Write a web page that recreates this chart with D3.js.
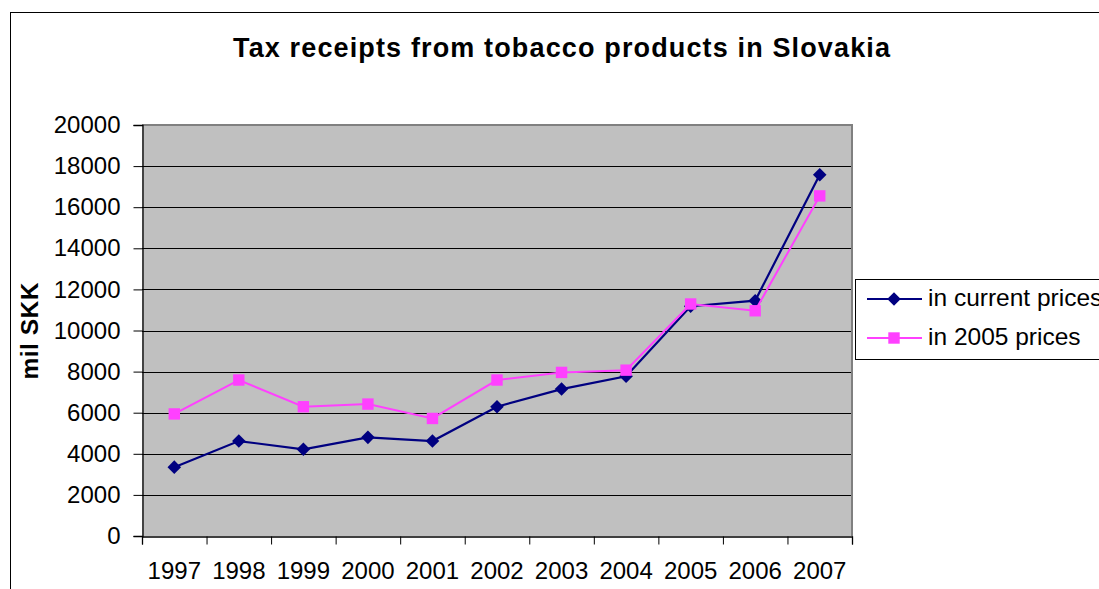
<!DOCTYPE html>
<html>
<head>
<meta charset="utf-8">
<script src="https://cdn.jsdelivr.net/npm/d3@7"></script>
<style>
  body { margin: 0; background: #fff; }
  text { font-family: "Liberation Sans", Arial, sans-serif; fill: #000; }
</style>
</head>
<body>
<svg id="chart" width="1099" height="589"></svg>
<script>
// Tax receipts from tobacco products (mil SKK)
const years = ["1997", "1998", "1999", "2000", "2001", "2002", "2003", "2004", "2005", "2006", "2007"];
const currentPrices = [3350, 4620, 4220, 4800, 4620, 6290, 7150, 7770, 11180, 11450, 17580];
const prices2005 = [5940, 7590, 6290, 6420, 5720, 7590, 7960, 8070, 11290, 10960, 16550];
const yTicks = d3.range(0, 20001, 2000);
const seriesNames = ["in current prices", "in 2005 prices"];
const seriesColors = ["#000080", "#ff40ff"];

const svg = d3.select("#chart");

// outer chart frame
svg.append("rect")
  .attr("x", 10.5).attr("y", 12.5)
  .attr("width", 1200).attr("height", 700)
  .attr("fill", "#fff").attr("stroke", "#000").attr("stroke-width", 1);

const plot = { left: 142, right: 852, top: 125, bottom: 536 };

const x = d3.scaleBand().domain(years).range([plot.left, plot.right]).padding(0);
const xEdge = d3.scaleLinear().domain([0, years.length]).range([plot.left, plot.right]);
const y = d3.scaleLinear().domain([0, 20000]).range([plot.bottom, plot.top]);

// plot background
svg.append("rect")
  .attr("x", plot.left).attr("y", plot.top)
  .attr("width", plot.right - plot.left).attr("height", plot.bottom - plot.top)
  .attr("fill", "#c0c0c0");

// horizontal gridlines
svg.append("g").selectAll("line")
  .data(yTicks.filter(v => v > 0 && v < 20000))
  .join("line")
  .attr("x1", plot.left).attr("x2", plot.right)
  .attr("y1", d => Math.round(y(d)) + 0.5).attr("y2", d => Math.round(y(d)) + 0.5)
  .attr("stroke", "#000").attr("stroke-width", 1);

// grey plot border on top and right
svg.append("path")
  .attr("d", `M${plot.left},${plot.top} H${plot.right} V${plot.bottom}`)
  .attr("fill", "none").attr("stroke", "#808080").attr("stroke-width", 2);

const tickFont = 24;

// y axis
const yAxis = svg.append("g")
  .attr("transform", `translate(${plot.left + 0.5},0)`)
  .call(d3.axisLeft(y).tickValues(yTicks).tickSize(9).tickPadding(13).tickFormat(d3.format("d")));
yAxis.select(".domain").attr("stroke", "#000").attr("stroke-width", 1.3);
yAxis.selectAll(".tick line").attr("stroke", "#000");
yAxis.selectAll("text").attr("font-size", tickFont).attr("font-family", "Liberation Sans, Arial, sans-serif").attr("fill", "#000");

// x axis: ticks between categories
const xTickAxis = svg.append("g")
  .attr("transform", `translate(0,${plot.bottom + 0.5})`)
  .call(d3.axisBottom(xEdge).tickValues(d3.range(0, years.length + 1)).tickSize(8).tickFormat(""));
xTickAxis.select(".domain").attr("stroke", "#000").attr("stroke-width", 1.3);
xTickAxis.selectAll(".tick line").attr("stroke", "#000");

// x labels at category centres
const xLabelAxis = svg.append("g")
  .attr("transform", `translate(0,${plot.bottom})`)
  .call(d3.axisBottom(x).tickSize(0).tickPadding(26));
xLabelAxis.select(".domain").remove();
xLabelAxis.selectAll("text").attr("font-size", tickFont).attr("font-family", "Liberation Sans, Arial, sans-serif").attr("fill", "#000");

// title
svg.append("text")
  .attr("x", 561.5).attr("y", 57)
  .attr("text-anchor", "middle")
  .attr("font-size", 27).attr("font-weight", "bold")
  .attr("textLength", 657).attr("lengthAdjust", "spacing")
  .text("Tax receipts from tobacco products in Slovakia");

// y axis title
svg.append("text")
  .attr("transform", "translate(38,331) rotate(-90)")
  .attr("text-anchor", "middle")
  .attr("font-size", 24.5).attr("font-weight", "bold")
  .attr("textLength", 97).attr("lengthAdjust", "spacing")
  .text("mil SKK");

// series lines and markers
const series = [currentPrices, prices2005];
const line = d3.line()
  .x((d, i) => x(years[i]) + x.bandwidth() / 2)
  .y(d => y(d));

const diamond = d3.symbol(d3.symbolSquare, 92);
const square = d3.symbol(d3.symbolSquare, 130);

series.forEach((vals, s) => {
  svg.append("path")
    .datum(vals)
    .attr("d", line)
    .attr("fill", "none")
    .attr("stroke", seriesColors[s])
    .attr("stroke-width", s === 0 ? 2.2 : 2);
  svg.append("g").selectAll("path")
    .data(vals)
    .join("path")
    .attr("transform", (d, i) => `translate(${x(years[i]) + x.bandwidth() / 2},${y(d)})` + (s === 0 ? " rotate(45)" : ""))
    .attr("d", s === 0 ? diamond : square)
    .attr("fill", seriesColors[s]);
});

// legend
const legend = svg.append("g");
legend.append("rect")
  .attr("x", 855.5).attr("y", 279.5)
  .attr("width", 300).attr("height", 80)
  .attr("fill", "#fff").attr("stroke", "#000").attr("stroke-width", 1);
const rowY = [299, 338];
seriesNames.forEach((name, s) => {
  legend.append("line")
    .attr("x1", 867).attr("x2", 922)
    .attr("y1", rowY[s]).attr("y2", rowY[s])
    .attr("stroke", seriesColors[s]).attr("stroke-width", 2);
  legend.append("path")
    .attr("transform", `translate(894,${rowY[s]})` + (s === 0 ? " rotate(45)" : ""))
    .attr("d", s === 0 ? diamond : square)
    .attr("fill", seriesColors[s]);
  legend.append("text")
    .attr("x", 928).attr("y", rowY[s] + 7)
    .attr("font-size", 24.5)
    .text(name);
});
</script>
</body>
</html>
